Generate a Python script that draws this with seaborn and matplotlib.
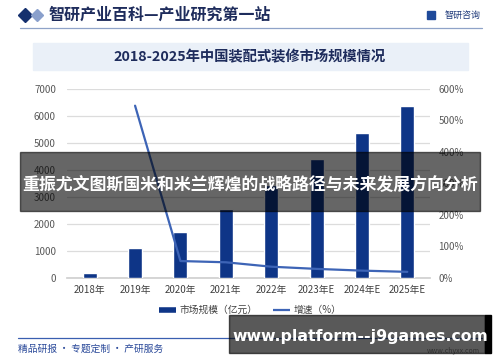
import numpy as np
import pandas as pd
import matplotlib
matplotlib.use("Agg")
import matplotlib.pyplot as plt
import seaborn as sns
from matplotlib.lines import Line2D
from matplotlib.patches import Rectangle

years = ["2018年", "2019年", "2020年", "2021年", "2022年", "2023年E", "2024年E", "2025年E"]
market_size = [170, 1110, 1700, 2540, 3430, 4390, 5380, 6380]
growth_years = ["2019年", "2020年", "2021年", "2022年", "2023年E", "2024年E", "2025年E"]
growth = [547, 53, 49, 35, 28, 22.5, 18.6]
left_ticks = [0, 1000, 2000, 3000, 4000, 5000, 6000, 7000]
right_ticks = [0, 100, 200, 300, 400, 500, 600]

sns.set_theme(style="white")
plt.rcParams["font.family"] = ["Noto Sans CJK SC", "DejaVu Sans"]

W, H = 500, 362
fig = plt.figure(figsize=(W / 100, H / 100), dpi=100)
fig.patch.set_facecolor("white")

def fx(x): return x / W
def fy(y): return 1 - y / H

ax = fig.add_axes([fx(67), fy(277.7), fx(430) - fx(67), fy(89) - fy(277.7)])
ax.set_facecolor("none")

bar_color = "#0e3587"
line_color = "#3d64b6"

df = pd.DataFrame({"year": years, "size": market_size})
sns.barplot(data=df, x="year", y="size", color=bar_color, width=0.31,
            saturation=1, ax=ax, zorder=3)
ax.set_ylim(0, 7000)
ax.set_yticks(left_ticks)
ax.set_yticklabels([str(t) for t in left_ticks])
ax.set_xlim(-0.5, len(years) - 0.5)
ax.grid(axis="y", color="#dcdcdc", linewidth=0.9, zorder=0)
ax.set_axisbelow(True)
for s in ["top", "right", "left"]:
    ax.spines[s].set_visible(False)
ax.spines["bottom"].set_color("#d0d0d0")
ax.set_xlabel("")
ax.set_ylabel("")
ax.tick_params(axis="y", length=0, labelsize=7, labelcolor="#595959", pad=8)
ax.tick_params(axis="x", length=0, labelsize=7, labelcolor="#404040", pad=5)

ax2 = ax.twinx()
gx = [years.index(y) for y in growth_years]
sns.lineplot(x=gx, y=growth, ax=ax2, color=line_color, linewidth=1.6, zorder=4)
ax2.set_ylim(0, 600)
ax2.set_yticks(right_ticks)
ax2.set_yticklabels([f"{t}%" for t in right_ticks])
ax2.tick_params(axis="y", length=0, labelsize=7, labelcolor="#595959", pad=6)
for s in ax2.spines.values():
    s.set_visible(False)
ax2.set_xlim(-0.5, len(years) - 0.5)

# Header
fig.add_artist(Line2D([fx(25)], [fy(15)], marker="D", markersize=7.5, color="#15306e",
                      transform=fig.transFigure))
fig.add_artist(Line2D([fx(37)], [fy(15)], marker="D", markersize=6, color="#8aa0cc",
                      transform=fig.transFigure))
fig.text(fx(49), fy(15), "智研产业百科—产业研究第一站", fontsize=11.5, fontweight="bold",
         color="#1e2c5c", va="center", ha="left")
fig.text(fx(481), fy(15), "智研咨询", fontsize=6.5, color="#1f3a7a", va="center", ha="right")
fig.add_artist(Rectangle((fx(427), fy(19)), fx(8), fy(11) - fy(19), color="#1f4a9a",
                         transform=fig.transFigure))
fig.add_artist(Line2D([fx(20), fx(482)], [fy(28), fy(28)], color="#8fa3c8", linewidth=0.9,
                      transform=fig.transFigure))

# Title box
fig.add_artist(Rectangle((fx(33), fy(70)), fx(468) - fx(33), fy(43) - fy(70), color="#eaf0f8",
                         transform=fig.transFigure, zorder=0))
fig.text(0.5, fy(57), "2018-2025年中国装配式装修市场规模情况", fontsize=10.3, fontweight="bold",
         color="#1e2c5c", va="center", ha="center")

# Legend
handles = [Line2D([], [], color=bar_color, linewidth=4, solid_capstyle="butt"),
           Line2D([], [], color=line_color, linewidth=1.6, solid_capstyle="butt")]
fig.legend(handles, ["市场规模（亿元）", "增速（%）"], loc="center", bbox_to_anchor=(0.5, fy(310)),
           ncol=2, frameon=False, fontsize=7, handlelength=1.8, handletextpad=0.3,
           columnspacing=1.6, labelcolor="#404040")

# Footer
fig.add_artist(Line2D([fx(18), fx(482)], [fy(338), fy(338)], color="#3a5fb0", linewidth=0.9,
                      transform=fig.transFigure))
fig.text(fx(18), fy(349), "精品研报 · 专题定制 · 产研服务", fontsize=7, color="#2b4a9a",
         va="center", ha="left")
fig.text(fx(480), fy(351), "www.chyxx.com", fontsize=5, color="#8a8a8a", va="center", ha="right")

# Overlay banner
fig.add_artist(Rectangle((fx(20), fy(210.5)), fx(480) - fx(20), fy(151.7) - fy(210.5),
                         color="black", alpha=0.6, transform=fig.transFigure, zorder=10))
fig.text(0.5, fy(185), "重振尤文图斯国米和米兰辉煌的战略路径与未来发展方向分析", fontsize=12.2,
         fontweight="bold", color="white", va="center", ha="center", zorder=11)

# Bottom-right watermark box
fig.add_artist(Rectangle((fx(229), fy(352.7)), fx(485) - fx(229), fy(315) - fy(352.7),
                         color="black", alpha=0.65, transform=fig.transFigure, zorder=10))
fig.add_artist(Rectangle((fx(485), fy(352.7)), fx(491) - fx(485), fy(315) - fy(352.7),
                         color="black", transform=fig.transFigure, zorder=10))
fig.text(fx(360), fy(337), "www.platform--j9games.com", fontsize=11.3, fontweight="bold",
         color="white", va="center", ha="center", zorder=11, family="DejaVu Sans")

fig.savefig("out.png", dpi=100)
